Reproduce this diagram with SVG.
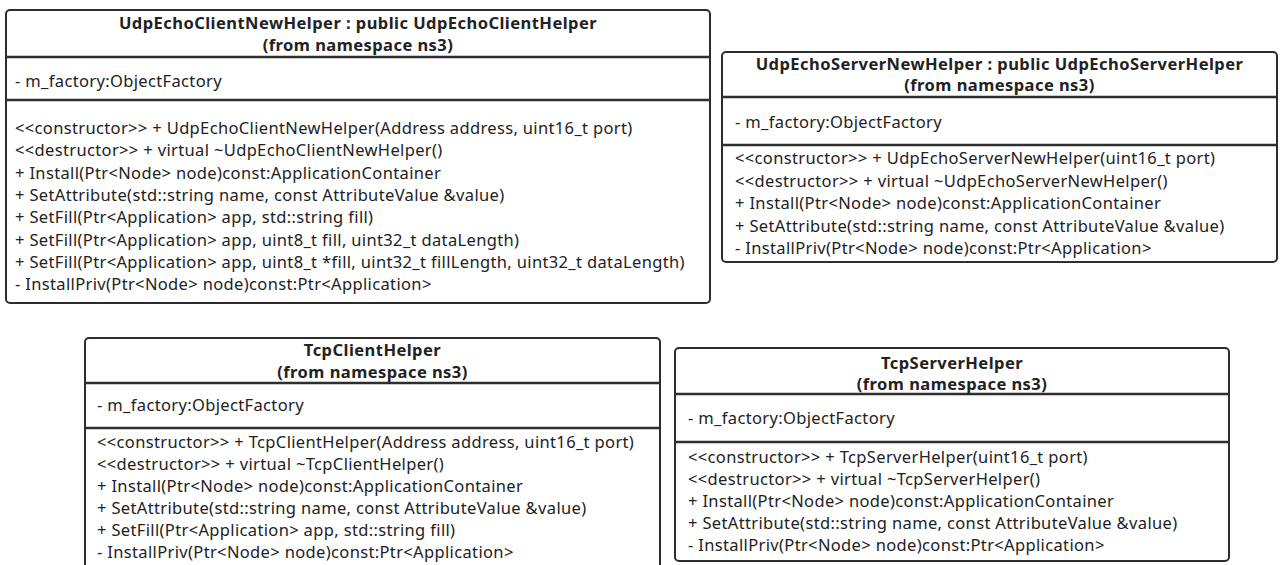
<svg xmlns="http://www.w3.org/2000/svg" width="1285" height="565" viewBox="0 0 1285 565">
  <style>
    .box { fill: #ffffff; stroke: #2e2e2e; stroke-width: 2; }
    .sep { stroke: #2e2e2e; stroke-width: 2.5; }
    .t { font-family: "Noto Sans", "Open Sans", sans-serif; font-size: 16.5px; letter-spacing: 0.35px; fill: #222222; }
    .h { font-weight: bold; letter-spacing: 0.45px; text-anchor: middle; }
  </style>
  <rect x="0" y="0" width="1285" height="565" fill="#ffffff"/>

  <!-- UdpEchoClientNewHelper -->
  <g id="udp-echo-client-new-helper">
    <rect class="box" x="6" y="10" width="704" height="293" rx="4"/>
    <line class="sep" x1="6" y1="57" x2="710" y2="57"/>
    <line class="sep" x1="6" y1="100" x2="710" y2="100"/>
    <text class="t h" x="358" y="29">UdpEchoClientNewHelper : public UdpEchoClientHelper</text>
    <text class="t h" x="358" y="51">(from namespace ns3)</text>
    <text class="t" x="15" y="87">- m_factory:ObjectFactory</text>
    <text class="t" x="15" y="134">&lt;&lt;constructor&gt;&gt; + UdpEchoClientNewHelper(Address address, uint16_t port)</text>
    <text class="t" x="15" y="156">&lt;&lt;destructor&gt;&gt; + virtual ~UdpEchoClientNewHelper()</text>
    <text class="t" x="15" y="179">+ Install(Ptr&lt;Node&gt; node)const:ApplicationContainer</text>
    <text class="t" x="15" y="201">+ SetAttribute(std::string name, const AttributeValue &amp;value)</text>
    <text class="t" x="15" y="223">+ SetFill(Ptr&lt;Application&gt; app, std::string fill)</text>
    <text class="t" x="15" y="246">+ SetFill(Ptr&lt;Application&gt; app, uint8_t fill, uint32_t dataLength)</text>
    <text class="t" x="15" y="268">+ SetFill(Ptr&lt;Application&gt; app, uint8_t *fill, uint32_t fillLength, uint32_t dataLength)</text>
    <text class="t" x="15" y="290">- InstallPriv(Ptr&lt;Node&gt; node)const:Ptr&lt;Application&gt;</text>
  </g>

  <!-- UdpEchoServerNewHelper -->
  <g id="udp-echo-server-new-helper">
    <rect class="box" x="722" y="52" width="555" height="210" rx="4"/>
    <line class="sep" x1="722" y1="97" x2="1277" y2="97"/>
    <line class="sep" x1="722" y1="145" x2="1277" y2="145"/>
    <text class="t h" x="999.5" y="70">UdpEchoServerNewHelper : public UdpEchoServerHelper</text>
    <text class="t h" x="999.5" y="91">(from namespace ns3)</text>
    <text class="t" x="735" y="128">- m_factory:ObjectFactory</text>
    <text class="t" x="735" y="164">&lt;&lt;constructor&gt;&gt; + UdpEchoServerNewHelper(uint16_t port)</text>
    <text class="t" x="735" y="187">&lt;&lt;destructor&gt;&gt; + virtual ~UdpEchoServerNewHelper()</text>
    <text class="t" x="735" y="209">+ Install(Ptr&lt;Node&gt; node)const:ApplicationContainer</text>
    <text class="t" x="735" y="232">+ SetAttribute(std::string name, const AttributeValue &amp;value)</text>
    <text class="t" x="735" y="254">- InstallPriv(Ptr&lt;Node&gt; node)const:Ptr&lt;Application&gt;</text>
  </g>

  <!-- TcpClientHelper (runs past the bottom edge of the canvas) -->
  <g id="tcp-client-helper">
    <rect class="box" x="85" y="338" width="575" height="240" rx="4"/>
    <line class="sep" x1="85" y1="383" x2="660" y2="383"/>
    <line class="sep" x1="85" y1="428" x2="660" y2="428"/>
    <text class="t h" x="372.5" y="356">TcpClientHelper</text>
    <text class="t h" x="372.5" y="378">(from namespace ns3)</text>
    <text class="t" x="97" y="411">- m_factory:ObjectFactory</text>
    <text class="t" x="97" y="448">&lt;&lt;constructor&gt;&gt; + TcpClientHelper(Address address, uint16_t port)</text>
    <text class="t" x="97" y="470">&lt;&lt;destructor&gt;&gt; + virtual ~TcpClientHelper()</text>
    <text class="t" x="97" y="492">+ Install(Ptr&lt;Node&gt; node)const:ApplicationContainer</text>
    <text class="t" x="97" y="514">+ SetAttribute(std::string name, const AttributeValue &amp;value)</text>
    <text class="t" x="97" y="536">+ SetFill(Ptr&lt;Application&gt; app, std::string fill)</text>
    <text class="t" x="97" y="558">- InstallPriv(Ptr&lt;Node&gt; node)const:Ptr&lt;Application&gt;</text>
  </g>

  <!-- TcpServerHelper -->
  <g id="tcp-server-helper">
    <rect class="box" x="675" y="348" width="554" height="213" rx="4"/>
    <line class="sep" x1="675" y1="394" x2="1229" y2="394"/>
    <line class="sep" x1="675" y1="442" x2="1229" y2="442"/>
    <text class="t h" x="952" y="369">TcpServerHelper</text>
    <text class="t h" x="952" y="390">(from namespace ns3)</text>
    <text class="t" x="688" y="424">- m_factory:ObjectFactory</text>
    <text class="t" x="688" y="463">&lt;&lt;constructor&gt;&gt; + TcpServerHelper(uint16_t port)</text>
    <text class="t" x="688" y="485">&lt;&lt;destructor&gt;&gt; + virtual ~TcpServerHelper()</text>
    <text class="t" x="688" y="507">+ Install(Ptr&lt;Node&gt; node)const:ApplicationContainer</text>
    <text class="t" x="688" y="529">+ SetAttribute(std::string name, const AttributeValue &amp;value)</text>
    <text class="t" x="688" y="551">- InstallPriv(Ptr&lt;Node&gt; node)const:Ptr&lt;Application&gt;</text>
  </g>

  <!-- no associations between these classes -->
  <g id="connectors"/>
</svg>
